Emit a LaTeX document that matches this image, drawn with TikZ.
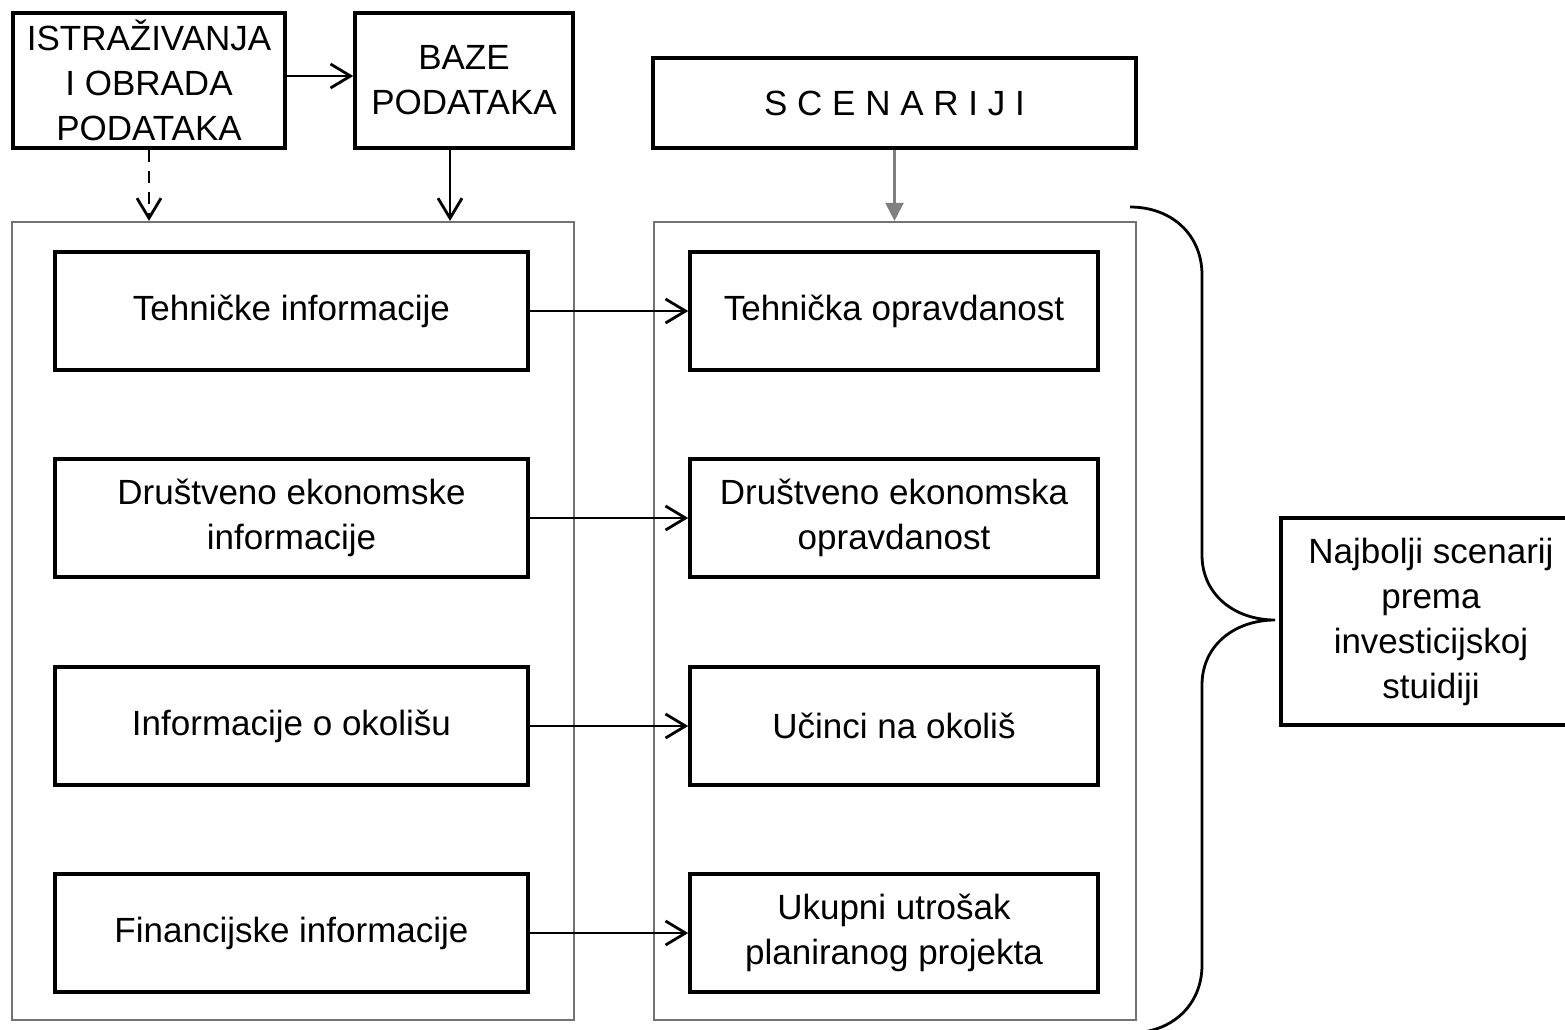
\documentclass[tikz,border=0pt]{standalone}
\usepackage{fontspec}
\setmainfont{Liberation Sans}
\usetikzlibrary{arrows.meta}
\begin{document}
\begin{tikzpicture}[x=1pt,y=-1pt,
  box/.style={draw, line width=3.5pt, inner sep=0pt, align=center,
    font=\fontsize{35pt}{45pt}\selectfont},
  frame/.style={draw=black!55, line width=2.2pt, inner sep=0pt},
  arr/.style={line width=2.8pt, -{Straight Barb[length=20pt,width=24pt]}},
  dasharr/.style={arr, dash pattern=on 12pt off 9pt},
  greyarr/.style={draw=black!50, line width=2.2pt,
    -{Triangle[length=18pt,width=18pt,fill=black!50]}},
  lbox/.style={box, minimum width=473pt, minimum height=118pt},
  rbox/.style={box, minimum width=408pt, minimum height=118pt}]
\useasboundingbox (0,0) rectangle (1565,1029);

% top row
\node[box, minimum width=272pt, minimum height=135pt] (ist) at (149,80.5)
  {ISTRAŽIVANJA\\I OBRADA\\PODATAKA};
\node[box, minimum width=218pt, minimum height=135pt] (baze) at (464,80.5)
  {BAZE\\PODATAKA};
\node[box, minimum width=483pt, minimum height=90pt] (scen) at (894.5,103)
  {S C E N A R I J I};

% the two framed columns
\node[frame, minimum width=562pt, minimum height=798pt] (lframe) at (293,621) {};
\node[frame, minimum width=482pt, minimum height=798pt] (rframe) at (895,621) {};

% information column
\node[lbox] (l1) at (291.5,311) {Tehničke informacije};
\node[lbox] (l2) at (291.5,518) {Društveno ekonomske\\informacije};
\node[lbox] (l3) at (291.5,726) {Informacije o okolišu};
\node[lbox] (l4) at (291.5,933) {Financijske informacije};

% assessment column
\node[rbox] (r1) at (894,311) {Tehnička opravdanost};
\node[rbox] (r2) at (894,518) {Društveno ekonomska\\opravdanost};
\node[rbox] (r3) at (894,726) {Učinci na okoliš};
\node[rbox] (r4) at (894,933) {Ukupni utrošak\\planiranog projekta};

% outcome
\node[box, minimum width=300pt, minimum height=207pt] (best) at (1431,621.5)
  {Najbolji scenarij\\prema\\investicijskoj\\stuidiji};

% connectors
\coordinate (ab) at (0,76);
\coordinate (bx) at (450,0);
\draw[arr] (ist.east |- ab) -- (baze.west |- ab);
\draw[dasharr] (ist.south) -- (lframe.north -| ist.south);
\draw[arr] (baze.south -| bx) -- (lframe.north -| bx);
\draw[greyarr] (scen.south) -- (rframe.north -| scen.south);

\foreach \i in {1,...,4}
  \draw[arr] (l\i.east) -- (r\i.west);

% brace gathering the scenarios
\draw[line width=2.8pt]
  (1130,207) .. controls (1172,207) and (1202,235) .. (1202,275)
  -- (1202,555) .. controls (1202,595) and (1235,620) .. (1275,620)
  .. controls (1235,620) and (1202,645) .. (1202,685)
  -- (1202,965) .. controls (1202,1005) and (1172,1033) .. (1130,1033);
\end{tikzpicture}
\end{document}
